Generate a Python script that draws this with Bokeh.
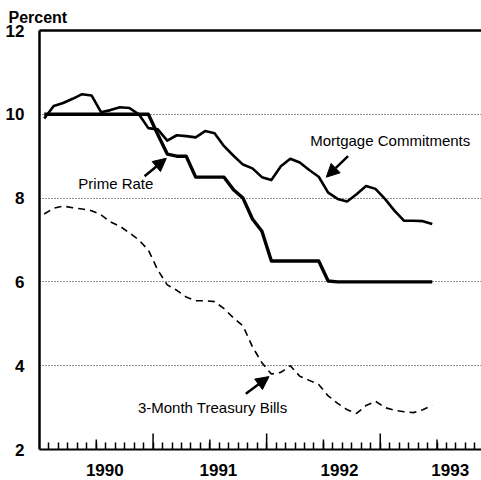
import math
from bokeh.plotting import figure
from bokeh.models import Range1d, FixedTicker, LinearAxis, Label, Arrow, NormalHead
from bokeh.embed import file_html
from bokeh.resources import INLINE

# Monthly observations, January 1990 through June 1993 (percent)
months = ["1990-01", "1990-02", "1990-03", "1990-04", "1990-05", "1990-06",
          "1990-07", "1990-08", "1990-09", "1990-10", "1990-11", "1990-12",
          "1991-01", "1991-02", "1991-03", "1991-04", "1991-05", "1991-06",
          "1991-07", "1991-08", "1991-09", "1991-10", "1991-11", "1991-12",
          "1992-01", "1992-02", "1992-03", "1992-04", "1992-05", "1992-06",
          "1992-07", "1992-08", "1992-09", "1992-10", "1992-11", "1992-12",
          "1993-01", "1993-02", "1993-03", "1993-04", "1993-05", "1993-06"]

prime_rate = [10.0, 10.0, 10.0, 10.0, 10.0, 10.0, 10.0, 10.0, 10.0, 10.0, 10.0, 10.0,
              9.52, 9.05, 9.0, 9.0, 8.5, 8.5, 8.5, 8.5, 8.2, 8.0, 7.5, 7.21,
              6.5, 6.5, 6.5, 6.5, 6.5, 6.5, 6.02, 6.0, 6.0, 6.0, 6.0, 6.0,
              6.0, 6.0, 6.0, 6.0, 6.0, 6.0]

mortgage = [9.9, 10.2, 10.27, 10.37, 10.48, 10.45, 10.05, 10.1, 10.17, 10.15, 10.0, 9.67,
            9.64, 9.37, 9.5, 9.48, 9.45, 9.6, 9.55, 9.24, 9.01, 8.8, 8.71, 8.5,
            8.43, 8.76, 8.94, 8.85, 8.67, 8.51, 8.13, 7.98, 7.92, 8.09, 8.29, 8.22,
            7.98, 7.7, 7.46, 7.46, 7.45, 7.38]

tbill = [7.62, 7.76, 7.81, 7.77, 7.74, 7.70, 7.6, 7.43, 7.33, 7.17, 7.0, 6.76,
         6.28, 5.93, 5.8, 5.64, 5.55, 5.55, 5.53, 5.36, 5.14, 4.95, 4.45, 4.07,
         3.8, 3.84, 4.0, 3.75, 3.65, 3.55, 3.28, 3.1, 2.95, 2.86, 3.05, 3.15,
         3.0, 2.94, 2.9, 2.88, 2.95, 3.05]

year_labels = ["1990", "1991", "1992", "1993"]
year_label_pos = [6.9, 18.9, 31.7, 43.4]
year_starts = [12, 24, 36]
half_years = [6, 18, 30, 42]
month_ticks = list(range(1, 47))
y_ticks = [2, 4, 6, 8, 10, 12]
grid_ticks = [4, 6, 8, 10]

# month index -> mid-month position
x = [i + 0.5 for i in range(len(months))]

FONT = "Liberation Sans"

p = figure(width=481, height=480, x_range=Range1d(0, 46.7), y_range=Range1d(2, 12),
           output_backend="svg", toolbar_location=None,
           min_border_left=39, min_border_right=0, min_border_top=30, min_border_bottom=31)
p.outline_line_color = None
p.background_fill_color = "white"
p.border_fill_color = "white"

# title used as the unit label
p.title.text = "Percent"
p.title.align = "left"
p.title.offset = -31
p.title.text_font = FONT
p.title.text_font_style = "bold"
p.title.text_font_size = "16px"
p.title.text_color = "black"

# x axis
p.xaxis.ticker = FixedTicker(ticks=year_label_pos, minor_ticks=month_ticks)
p.xaxis.major_label_overrides = {k: v for k, v in zip(year_label_pos, year_labels)}
p.xaxis.major_tick_line_color = None
p.xaxis.minor_tick_in = 7
p.xaxis.minor_tick_out = 0
p.xaxis.minor_tick_line_width = 1.5
p.xaxis.minor_tick_line_color = "black"
p.xaxis.axis_line_width = 2
p.xaxis.axis_line_color = "black"
p.xaxis.major_label_text_font = FONT
p.xaxis.major_label_text_font_style = "bold"
p.xaxis.major_label_text_font_size = "17px"
p.xaxis.major_label_text_color = "black"
p.xaxis.major_label_standoff = 8

# y axis
p.yaxis.ticker = FixedTicker(ticks=y_ticks)
p.yaxis.major_tick_line_color = None
p.yaxis.minor_tick_line_color = None
p.yaxis.axis_line_width = 2.5
p.yaxis.axis_line_color = "black"
p.yaxis.major_label_text_font = FONT
p.yaxis.major_label_text_font_style = "bold"
p.yaxis.major_label_text_font_size = "17px"
p.yaxis.major_label_text_color = "black"
p.yaxis.major_label_standoff = 9

# top border
top_axis = LinearAxis(ticker=FixedTicker(ticks=[]), major_tick_line_color=None,
                      minor_tick_line_color=None, major_label_text_font_size="0px",
                      axis_line_width=2.5, axis_line_color="black")
p.add_layout(top_axis, "above")

# grid
p.xgrid.visible = False
p.ygrid.ticker = FixedTicker(ticks=grid_ticks)
p.ygrid.grid_line_color = "#222222"
p.ygrid.grid_line_width = 1
p.ygrid.grid_line_dash = "1 2"

# taller ticks
p.ray(x=half_years, y=[2] * len(half_years), length=10, length_units="screen",
      angle=math.pi / 2, line_color="black", line_width=1.5)
p.ray(x=year_starts, y=[2] * len(year_starts), length=16, length_units="screen",
      angle=math.pi / 2, line_color="black", line_width=1.5)

# series
p.line(x, tbill, line_color="black", line_width=1.6, line_dash="7 5")
p.line(x, mortgage, line_color="black", line_width=2.6, line_join="round")
p.line(x, prime_rate, line_color="black", line_width=3.4, line_join="round")

# texts
p.add_layout(Label(x=28.6, y=9.17, text="Mortgage Commitments", text_font=FONT,
                   text_font_size="15px", text_color="black"))
p.add_layout(Label(x=4.1, y=8.14, text="Prime Rate", text_font=FONT,
                   text_font_size="15px", text_color="black"))
p.add_layout(Label(x=10.4, y=2.79, text="3-Month Treasury Bills", text_font=FONT,
                   text_font_size="15px", text_color="black"))

# arrows
def add_arrow(x0, y0, x1, y1):
    p.add_layout(Arrow(end=NormalHead(size=13, fill_color="black", line_color="black"),
                       x_start=x0, y_start=y0, x_end=x1, y_end=y1,
                       line_color="black", line_width=2.5))

add_arrow(32.6, 9.0, 30.3, 8.5)
add_arrow(11.1, 8.52, 13.4, 8.95)
add_arrow(21.8, 3.33, 24.25, 3.74)

open("out.html", "w").write(file_html(p, INLINE))
